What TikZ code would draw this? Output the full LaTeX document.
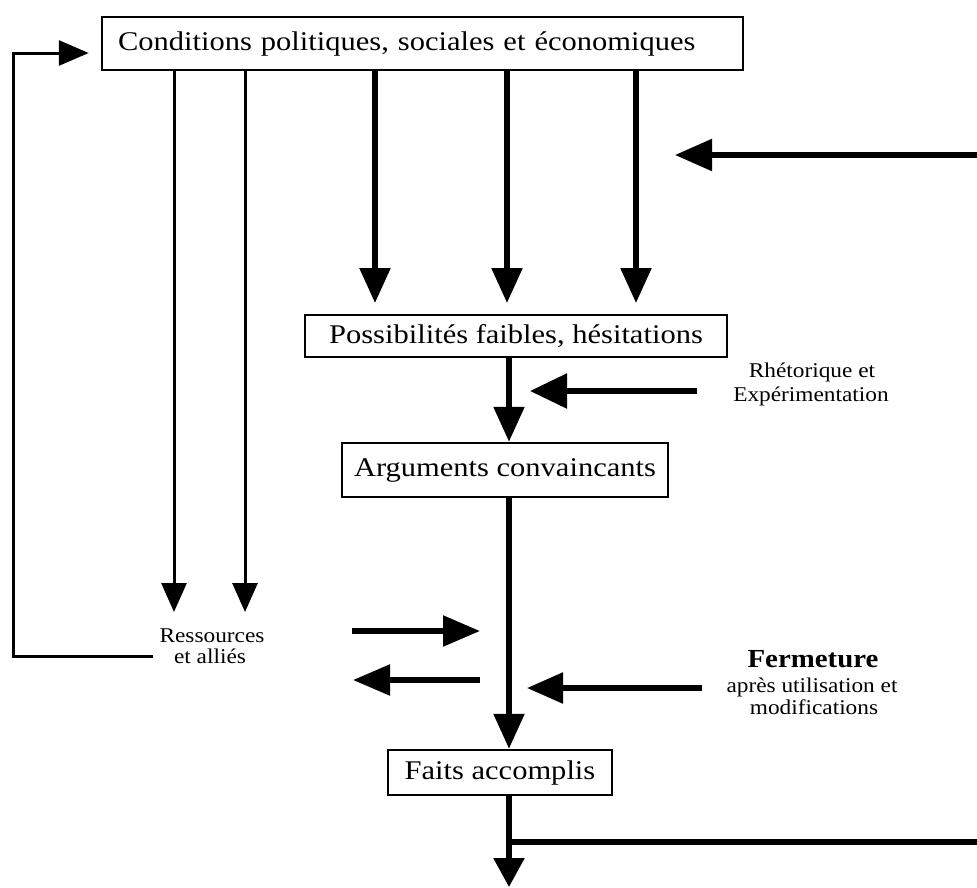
\documentclass[tikz,border=0pt]{standalone}
\usepackage{fontspec}
\setmainfont{Liberation Serif}[FakeStretch=1.13]
\newfontfamily\labelfont{Liberation Serif}[FakeStretch=1.11]
\usetikzlibrary{arrows.meta}

\begin{document}
\begin{tikzpicture}[x=1pt,y=-1pt,
  box/.style={draw, line width=2.5pt, inner sep=0pt,
    font=\fontsize{27}{30}\selectfont},
  lbl/.style={inner sep=0pt, anchor=base,
    font=\labelfont\fontsize{21}{23}\selectfont},
  boldlbl/.style={inner sep=0pt, anchor=base,
    font=\labelfont\bfseries\fontsize{26}{29}\selectfont},
  thinline/.style={line width=3pt},
  thickline/.style={line width=5.5pt},
  thinhead/.style={-{Triangle[length=29pt,width=25pt]}},
  downhead/.style={-{Triangle[length=35pt,width=30pt]}},
  sidehead/.style={-{Triangle[length=37pt,width=31pt]}},
]
\useasboundingbox (0,0) rectangle (977,887);

% boxes of the main chain
\node[box, minimum width=641pt, minimum height=53pt, inner xsep=16pt,
      text width=609pt, align=left] (cond) at (422.5,43.5)
      {Conditions politiques, sociales et économiques};
\node[box, minimum width=422pt, minimum height=42pt] (poss) at (516,336)
      {Possibilités faibles, hésitations};
\node[box, minimum width=326pt, minimum height=54pt] (args) at (505,470)
      {Arguments convaincants};
\node[box, minimum width=224pt, minimum height=45pt] (faits) at (500,772.5)
      {Faits accomplis};

% side labels
\node[lbl] (rh1) at (812,377) {Rhétorique et};
\node[lbl] (rh2) at (811,401) {Expérimentation};
\node[lbl] (res1) at (212,642) {Ressources};
\node[lbl] (res2) at (210,663) {et alliés};
\node[boldlbl] (fer) at (813,667) {Fermeture};
\node[lbl] (fer1) at (812,692) {après utilisation et};
\node[lbl] (fer2) at (814,714) {modifications};

% free ends of connectors
\coordinate (spine) at (509,0);
\coordinate (a1) at (375,303);
\coordinate (a2) at (507,303);
\coordinate (a3) at (636,303);
\coordinate (r1) at (174,612);
\coordinate (r2) at (245,612);
\coordinate (loopstart) at (153,656);
\coordinate (loopcorner) at (13,53);
\coordinate (fbin) at (977,155);
\coordinate (fbtip) at (675,155);
\coordinate (rhin) at (697,391);
\coordinate (rhtip) at (530,391);
\coordinate (ferin) at (702,688);
\coordinate (fertip) at (527,688);
\coordinate (resR0) at (352,631);
\coordinate (resR1) at (480,631);
\coordinate (resL0) at (480,680);
\coordinate (resL1) at (353,680);
\coordinate (outbottom) at (509,887);
\coordinate (outright) at (977,842);

% conditions feeding the weak possibilities
\foreach \c in {a1,a2,a3}
  \draw[thickline, downhead] (cond.south -| \c) -- (\c);

% conditions feeding resources and allies
\foreach \c in {r1,r2}
  \draw[thinline, thinhead] (cond.south -| \c) -- (\c);

% resources loop back to the conditions
\draw[thinline, -{Triangle[length=30pt,width=25pt]}, shorten >=12pt]
  (loopstart) -| (loopcorner) -- (cond.west |- loopcorner);

% main chain
\draw[thickline, downhead] (poss.south -| spine) -- (args.north -| spine);
\draw[thickline, downhead] (args.south -| spine) -- (faits.north -| spine);
\draw[thickline, -{Triangle[length=29pt,width=30pt]}]
  (faits.south -| spine) -- (outbottom);
\draw[thickline] (spine |- outright) -- (outright);

% horizontal arrows
\draw[thickline, sidehead] (fbin) -- (fbtip);
\draw[thickline, -{Triangle[length=37pt,width=34pt]}] (rhin) -- (rhtip);
\draw[thickline, -{Triangle[length=36pt,width=30pt]}] (ferin) -- (fertip);
\draw[thickline, -{Triangle[length=37pt,width=30pt]}] (resR0) -- (resR1);
\draw[thickline, -{Triangle[length=37pt,width=30pt]}] (resL0) -- (resL1);
\end{tikzpicture}
\end{document}
